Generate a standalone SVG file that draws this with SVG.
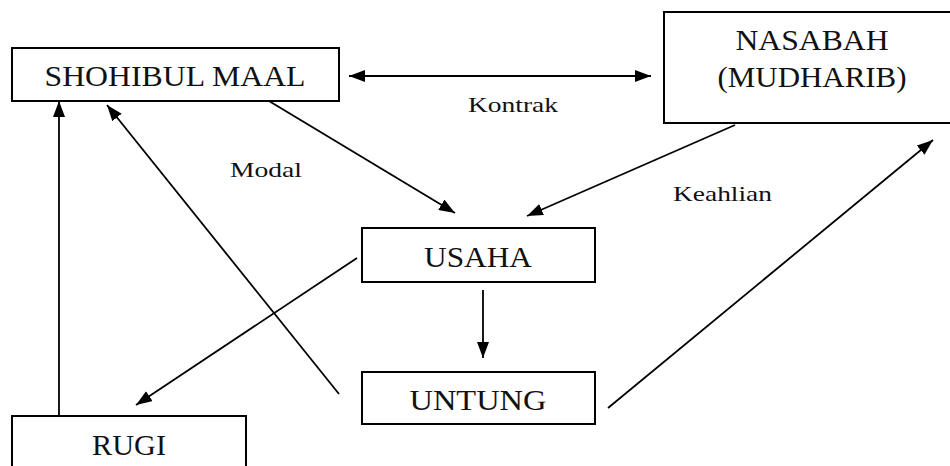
<svg xmlns="http://www.w3.org/2000/svg" width="950" height="466" viewBox="0 0 950 466">
  <style>
    .box { fill: #ffffff; stroke: #000000; stroke-width: 2; }
    .big { font-family: "Liberation Serif", "DejaVu Serif", serif; font-size: 30px; fill: #111111; text-anchor: middle; }
    .lbl { font-family: "Liberation Serif", "DejaVu Serif", serif; font-size: 22px; fill: #111111; }
    .wire { fill: none; stroke: #000000; stroke-width: 1.8; }
  </style>
  <defs>
    <marker id="arrow" viewBox="0 0 16 12" refX="16" refY="6" markerWidth="16" markerHeight="12" markerUnits="userSpaceOnUse" orient="auto-start-reverse">
      <path d="M0,0 L16,6 L0,12 Z" fill="#000000"/>
    </marker>
  </defs>
  <rect width="950" height="466" fill="#ffffff"/>

  <g id="connectors">
    <!-- Kontrak: two-way link between the parties -->
    <line class="wire" x1="349" y1="76" x2="651" y2="76" marker-start="url(#arrow)" marker-end="url(#arrow)"/>
    <!-- Modal -->
    <line class="wire" x1="269" y1="101" x2="455" y2="213" marker-end="url(#arrow)"/>
    <!-- Keahlian -->
    <line class="wire" x1="735" y1="125" x2="527" y2="216" marker-end="url(#arrow)"/>
    <!-- Usaha to Untung -->
    <line class="wire" x1="483" y1="290" x2="483" y2="358" marker-end="url(#arrow)"/>
    <!-- Usaha to Rugi -->
    <line class="wire" x1="357" y1="258" x2="136" y2="405" marker-end="url(#arrow)"/>
    <!-- Untung back to Shohibul Maal -->
    <line class="wire" x1="339" y1="394" x2="107" y2="105" marker-end="url(#arrow)"/>
    <!-- Untung to Nasabah -->
    <line class="wire" x1="608" y1="408" x2="933" y2="140" marker-end="url(#arrow)"/>
    <!-- Rugi borne by Shohibul Maal -->
    <line class="wire" x1="59" y1="416" x2="59" y2="101" marker-end="url(#arrow)"/>
  </g>

  <g id="shohibul-maal">
    <rect class="box" x="12" y="48" width="327" height="53"/>
    <text class="big" x="175" y="86" textLength="261" lengthAdjust="spacingAndGlyphs">SHOHIBUL MAAL</text>
  </g>

  <g id="nasabah">
    <rect class="box" x="664" y="12" width="300" height="111"/>
    <text class="big" x="812" y="50" textLength="153" lengthAdjust="spacingAndGlyphs">NASABAH</text>
    <text class="big" x="812" y="87" textLength="189" lengthAdjust="spacingAndGlyphs">(MUDHARIB)</text>
  </g>

  <g id="usaha">
    <rect class="box" x="362" y="228" width="233" height="54"/>
    <text class="big" x="478" y="267" textLength="108" lengthAdjust="spacingAndGlyphs">USAHA</text>
  </g>

  <g id="untung">
    <rect class="box" x="362" y="372" width="233" height="52"/>
    <text class="big" x="478" y="410" textLength="137" lengthAdjust="spacingAndGlyphs">UNTUNG</text>
  </g>

  <g id="rugi">
    <rect class="box" x="12" y="416" width="234" height="60"/>
    <text class="big" x="129" y="455" textLength="74" lengthAdjust="spacingAndGlyphs">RUGI</text>
  </g>

  <g id="labels">
    <text class="lbl" x="468" y="112" textLength="90" lengthAdjust="spacingAndGlyphs">Kontrak</text>
    <text class="lbl" x="230" y="177" textLength="72" lengthAdjust="spacingAndGlyphs">Modal</text>
    <text class="lbl" x="673" y="201" textLength="99" lengthAdjust="spacingAndGlyphs">Keahlian</text>
  </g>
</svg>
